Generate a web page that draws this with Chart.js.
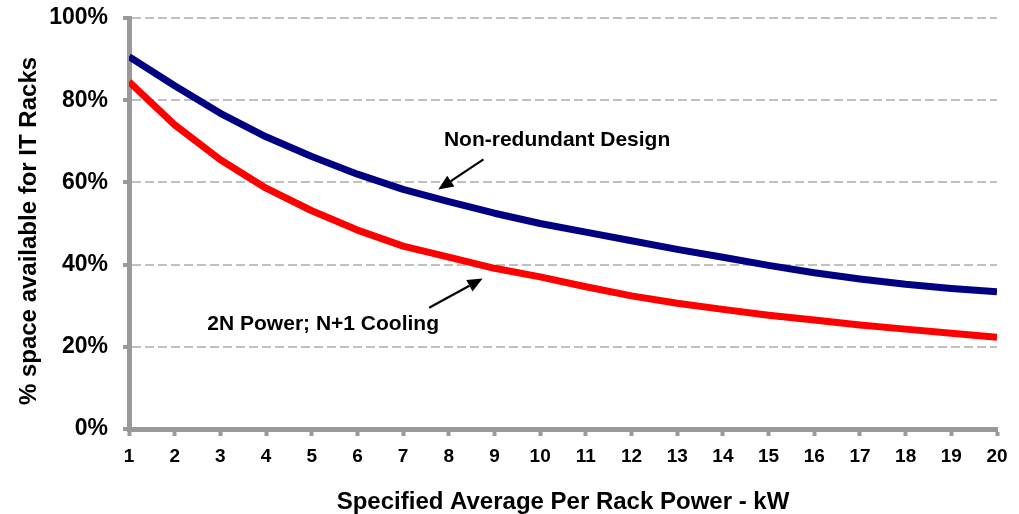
<!DOCTYPE html>
<html>
<head>
<meta charset="utf-8">
<script src="https://cdn.jsdelivr.net/npm/chart.js@4/dist/chart.umd.min.js"></script>
<style>
  html, body { margin: 0; padding: 0; background: #fff; }
  #wrap { width: 1019px; height: 514px; }
</style>
</head>
<body>
<div id="wrap"><canvas id="rackChart"></canvas></div>
<script>
// ------------ DATA ---------------
const rackPower = [1, 2, 3, 4, 5, 6, 7, 8, 9, 10, 11, 12, 13, 14, 15, 16, 17, 18, 19, 20];
const nonRedundant = [90.6, 83.5, 76.8, 71.1, 66.3, 62.0, 58.3, 55.3, 52.5, 50.0, 47.9, 45.8, 43.7, 41.8, 39.8, 38.0, 36.5, 35.2, 34.2, 33.4];
const redundant2N = [84.5, 74.0, 65.5, 58.6, 53.1, 48.4, 44.5, 41.8, 39.1, 37.0, 34.6, 32.4, 30.6, 29.1, 27.7, 26.5, 25.3, 24.3, 23.3, 22.3];
const percentTicks = [0, 20, 40, 60, 80, 100];

const FONT = '"Liberation Sans", Arial, sans-serif';

// labels + arrows, positions in data units (kW, %)
const notes = [
  { text: 'Non-redundant Design', x: 10.37, y: 70.3, from: [8.76, 65.6], to: [7.77, 58.3] },
  { text: '2N Power; N+1 Cooling', x: 5.25, y: 25.4, from: [7.57, 29.5], to: [8.74, 36.6] }
];

const toPoints = (values) => rackPower.map((kw, i) => ({ x: kw, y: values[i] }));

// draws the annotations and the rotated y title
const extras = {
  id: 'extras',
  afterDatasetsDraw(chart) {
    const { ctx, scales: { x, y } } = chart;
    ctx.save();
    ctx.fillStyle = '#000';
    ctx.strokeStyle = '#000';
    ctx.font = 'bold 21px ' + FONT;
    ctx.textAlign = 'center';
    ctx.textBaseline = 'middle';
    notes.forEach(n => {
      ctx.fillText(n.text, x.getPixelForValue(n.x), y.getPixelForValue(n.y));
      const x1 = x.getPixelForValue(n.from[0]), y1 = y.getPixelForValue(n.from[1]);
      const x2 = x.getPixelForValue(n.to[0]), y2 = y.getPixelForValue(n.to[1]);
      const a = Math.atan2(y2 - y1, x2 - x1);
      const len = 15, half = 6.5;
      const bx = x2 - len * Math.cos(a), by = y2 - len * Math.sin(a);
      ctx.lineWidth = 2.2;
      ctx.beginPath();
      ctx.moveTo(x1, y1);
      ctx.lineTo(bx, by);
      ctx.stroke();
      ctx.beginPath();
      ctx.moveTo(x2, y2);
      ctx.lineTo(bx + half * Math.sin(a), by - half * Math.cos(a));
      ctx.lineTo(bx - half * Math.sin(a), by + half * Math.cos(a));
      ctx.closePath();
      ctx.fill();
    });
    ctx.font = 'bold 24px ' + FONT;
    ctx.translate(29, 231);
    ctx.rotate(-Math.PI / 2);
    ctx.fillText('% space available for IT Racks', 0, 0);
    ctx.restore();
  }
};

new Chart(document.getElementById('rackChart'), {
  type: 'line',
  data: {
    datasets: [
      {
        label: 'Non-redundant Design',
        data: toPoints(nonRedundant),
        borderColor: '#000080',
        borderWidth: 7,
        pointRadius: 0,
        tension: 0,
        borderJoinStyle: 'round'
      },
      {
        label: '2N Power; N+1 Cooling',
        data: toPoints(redundant2N),
        borderColor: '#ff0000',
        borderWidth: 7,
        pointRadius: 0,
        tension: 0,
        borderJoinStyle: 'round'
      }
    ]
  },
  options: {
    responsive: true,
    maintainAspectRatio: false,
    animation: false,
    layout: { padding: { top: 18, right: 22, left: 0, bottom: 0 } },
    plugins: {
      legend: { display: false },
      tooltip: { enabled: false }
    },
    scales: {
      x: {
        type: 'linear',
        min: 1,
        max: 20,
        afterFit: (s) => { s.height = 85; s.paddingLeft = 0; s.paddingRight = 0; },
        afterBuildTicks: (s) => { s.ticks = rackPower.map(v => ({ value: v })); },
        ticks: {
          color: '#000',
          font: { family: FONT, size: 19, weight: 'bold' },
          padding: 9,
          maxRotation: 0,
          autoSkip: false
        },
        grid: {
          drawOnChartArea: false,
          tickLength: 7,
          tickWidth: 4,
          tickColor: '#999999'
        },
        border: { color: '#999999', width: 5 },
        title: {
          display: true,
          text: 'Specified Average Per Rack Power - kW',
          color: '#000',
          font: { family: FONT, size: 24, weight: 'bold', lineHeight: 1 },
          padding: { top: 0, bottom: 0 }
        }
      },
      y: {
        min: 0,
        max: 100,
        afterFit: (s) => { s.width = 129; s.paddingTop = 0; s.paddingBottom = 0; },
        afterBuildTicks: (s) => { s.ticks = percentTicks.map(v => ({ value: v })); },
        ticks: {
          color: '#000',
          font: { family: FONT, size: 23, weight: 'bold' },
          padding: 15,
          callback: (v) => v + '%'
        },
        grid: {
          color: (c) => (c.tick && c.tick.value === 0 ? 'rgba(0,0,0,0)' : '#c0c0c0'),
          lineWidth: 2,
          tickLength: 6,
          tickWidth: 4,
          tickColor: '#999999'
        },
        border: { color: '#999999', width: 5, dash: [9, 4] }
      }
    }
  },
  plugins: [extras]
});
</script>
</body>
</html>
